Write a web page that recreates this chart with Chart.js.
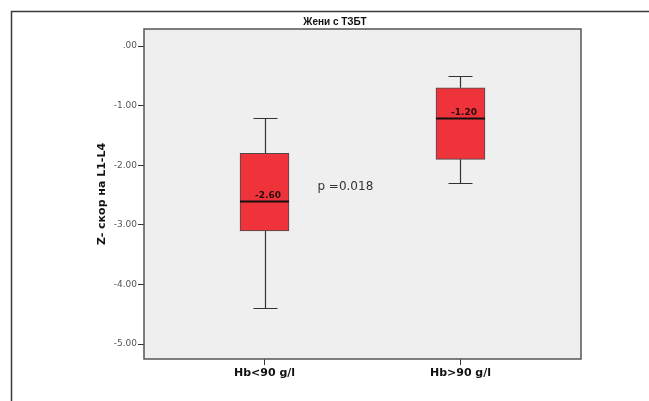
<!DOCTYPE html>
<html>
<head>
<meta charset="utf-8">
<script src="https://cdn.jsdelivr.net/npm/chart.js@4"></script>
<style>
    body { margin: 0; background: #fff; }
</style>
</head>
<body>
<canvas id="boxplot" width="649" height="401"></canvas>
<script>
/************** Box plot data ****************/

const groups = ['Hb<90 g/l', 'Hb>90 g/l'];
const groupX = [1, 2];
const whiskerLow = [-4.4, -2.3];
const q1 = [-3.1, -1.9];
const medians = [-2.6, -1.2];
const q3 = [-1.8, -0.7];
const whiskerHigh = [-1.2, -0.5];
const yTicks = [0, -1, -2, -3, -4, -5];

const chartTitle = 'Жени с ТЗБТ';
const yTitle = 'Z- скор на L1-L4';
const pText = 'p =0.018';
const pAt = { x: 1.27, y: -2.37 };

// boxes as floating bars
let boxData = []
for (let i = 0; i < groups.length; i++) {
    boxData.push({ x: groupX[i], y: [q1[i], q3[i]] });
}

// frame, plot background, whiskers, medians and texts
const boxPlotPlugin = {
    id: 'boxPlotPlugin',
    beforeDraw(chart) {
        const ctx = chart.ctx;
        const a = chart.chartArea;
        ctx.save();
        ctx.fillStyle = '#fff';
        ctx.fillRect(0, 0, chart.width, chart.height);
        // outer frame
        ctx.strokeStyle = '#3a3a3a';
        ctx.lineWidth = 1.5;
        ctx.beginPath();
        ctx.moveTo(11.5, chart.height);
        ctx.lineTo(11.5, 11.5);
        ctx.lineTo(chart.width, 11.5);
        ctx.stroke();
        // plot area
        ctx.fillStyle = '#efefef';
        ctx.fillRect(a.left, a.top, a.right - a.left, a.bottom - a.top);
        // title
        ctx.fillStyle = '#111';
        ctx.font = 'bold 10px "Liberation Sans", sans-serif';
        ctx.textAlign = 'center';
        ctx.textBaseline = 'middle';
        ctx.fillText(chartTitle, 335, 22);
        ctx.restore();
    },
    beforeDatasetsDraw(chart) {
        const ctx = chart.ctx;
        const xs = chart.scales.x;
        const ys = chart.scales.y;
        ctx.save();
        ctx.strokeStyle = '#333';
        ctx.lineWidth = 1.2;
        for (let i = 0; i < groups.length; i++) {
            const cx = Math.round(xs.getPixelForValue(groupX[i])) + 0.5;
            const capHalf = 12;
            const yHi = Math.round(ys.getPixelForValue(whiskerHigh[i])) + 0.5;
            const yLo = Math.round(ys.getPixelForValue(whiskerLow[i])) + 0.5;
            ctx.beginPath();
            ctx.moveTo(cx, yHi);
            ctx.lineTo(cx, ys.getPixelForValue(q3[i]));
            ctx.moveTo(cx, yLo);
            ctx.lineTo(cx, ys.getPixelForValue(q1[i]));
            ctx.moveTo(cx - capHalf, yHi);
            ctx.lineTo(cx + capHalf, yHi);
            ctx.moveTo(cx - capHalf, yLo);
            ctx.lineTo(cx + capHalf, yLo);
            ctx.stroke();
        }
        ctx.restore();
    },
    afterDatasetsDraw(chart) {
        const ctx = chart.ctx;
        const xs = chart.scales.x;
        const ys = chart.scales.y;
        const a = chart.chartArea;
        ctx.save();
        const meta = chart.getDatasetMeta(0);
        for (let i = 0; i < groups.length; i++) {
            const bar = meta.data[i];
            const half = bar.width / 2;
            const ym = Math.round(ys.getPixelForValue(medians[i])) + 0.5;
            ctx.strokeStyle = '#111';
            ctx.lineWidth = 2;
            ctx.beginPath();
            ctx.moveTo(bar.x - half, ym);
            ctx.lineTo(bar.x + half, ym);
            ctx.stroke();
            ctx.fillStyle = '#2a0a0a';
            ctx.font = 'bold 9px "DejaVu Sans", sans-serif';
            ctx.textAlign = 'right';
            ctx.textBaseline = 'bottom';
            ctx.fillText(medians[i].toFixed(2), bar.x + half - 8, ym - 1);
        }
        // p value
        ctx.fillStyle = '#333';
        ctx.font = '12px "DejaVu Sans", sans-serif';
        ctx.textAlign = 'left';
        ctx.textBaseline = 'middle';
        ctx.fillText(pText, xs.getPixelForValue(pAt.x), ys.getPixelForValue(pAt.y));
        // plot border
        ctx.strokeStyle = '#555';
        ctx.lineWidth = 1.5;
        ctx.strokeRect(a.left, a.top, a.right - a.left, a.bottom - a.top);
        ctx.restore();
    }
};

const info = {
    datasets: [{
        label: 'box',
        data: boxData,
        backgroundColor: '#ef333b',
        borderColor: '#4a4a4a',
        borderWidth: 1,
        borderSkipped: false,
        barThickness: 49
    }]
};

const config = {
    type: 'bar',
    data: info,
    plugins: [boxPlotPlugin],
    options: {
        responsive: false,
        animation: false,
        layout: { padding: { top: 29, right: 68, left: 0, bottom: 0 } },
        plugins: {
            legend: { display: false },
            tooltip: { enabled: false },
            title: { display: false }
        },
        scales: {
            x: {
                type: 'linear',
                min: 0.385,
                max: 2.615,
                offset: false,
                afterBuildTicks: (scale) => { scale.ticks = groupX.map(v => ({ value: v })); },
                afterFit: (scale) => { scale.height = 42; },
                grid: { offset: false, drawOnChartArea: false, drawTicks: true, tickLength: 6, color: '#333' },
                border: { display: false },
                ticks: {
                    padding: 2,
                    color: '#111',
                    font: { family: 'DejaVu Sans', size: 11, weight: 'bold' },
                    callback: (v) => groups[groupX.indexOf(v)]
                }
            },
            y: {
                min: -5.25,
                max: 0.286,
                afterBuildTicks: (scale) => { scale.ticks = yTicks.map(v => ({ value: v })); },
                afterFit: (scale) => { scale.width = 144; },
                grid: { drawOnChartArea: false, drawTicks: true, tickLength: 6, color: '#333' },
                border: { display: false },
                title: {
                    display: true,
                    text: yTitle,
                    color: '#111',
                    font: { family: 'DejaVu Sans', size: 11, weight: 'bold' },
                    padding: { top: 96, bottom: 0 }
                },
                ticks: {
                    padding: 1,
                    color: '#555',
                    font: { family: 'DejaVu Sans', size: 9 },
                    callback: (v) => v === 0 ? '.00' : v.toFixed(2)
                }
            }
        }
    }
};

const myChart = new Chart(document.getElementById('boxplot'), config);
</script>
</body>
</html>
